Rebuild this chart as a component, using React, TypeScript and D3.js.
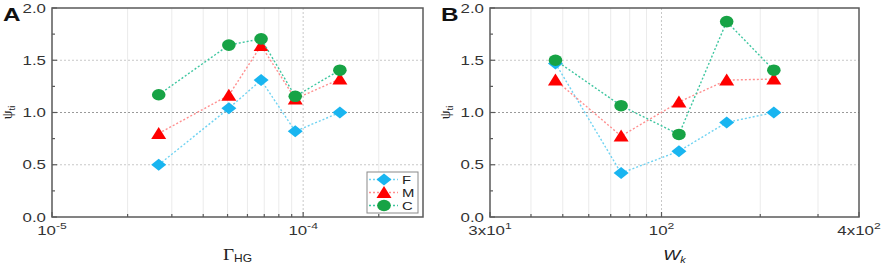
import React from "react";
import * as d3 from "d3";

const seriesNames = ["F", "M", "C"];
const markerColors = ["#19b5f0", "#ff0000", "#17a345"];
const lineColors = ["#6fd3f2", "#ff8f8f", "#3fc6a0"];

const gammaHG = [2.66e-5, 5.06e-5, 6.8e-5, 9.3e-5, 1.4e-4];
const psiA_F = [0.5, 1.04, 1.31, 0.82, 1.0];
const psiA_M = [0.8, 1.165, 1.64, 1.13, 1.32];
const psiA_C = [1.17, 1.645, 1.705, 1.155, 1.405];

const Wk = [47.5, 75.3, 113, 158, 220];
const psiB_F = [1.47, 0.42, 0.63, 0.905, 1.0];
const psiB_M = [1.31, 0.775, 1.1, 1.31, 1.32];
const psiB_C = [1.5, 1.065, 0.79, 1.87, 1.405];

const yTicks = [0, 0.5, 1.0, 1.5, 2.0];
const yMinor = [0.25, 0.75, 1.25, 1.75];

const xTicksA = [1e-5, 1e-4];
const xTickLabelsA = [["10", "-5"], ["10", "-4"]];
const xMinorA = [2e-5, 3e-5, 4e-5, 5e-5, 6e-5, 7e-5, 8e-5, 9e-5, 2e-4];

const xTicksB = [30, 100, 400];
const xTickLabelsB = [["3x10", "1"], ["10", "2"], ["4x10", "2"]];
const xMinorB = [40, 50, 60, 70, 80, 90, 200, 300];

const FONT = "Liberation Sans, Arial, sans-serif";
const SX = 1.35;

function SText(props: { x: number; y: number; anchor?: string; size: number; children: React.ReactNode; weight?: string; fill?: string }) {
  const { x, y, anchor, size, children, weight, fill } = props;
  return (
    <text
      transform={`translate(${x},${y}) scale(${SX},1)`}
      textAnchor={anchor || "start"}
      fontFamily={FONT}
      fontSize={size}
      fontWeight={weight || "normal"}
      fill={fill || "#333"}
    >
      {children}
    </text>
  );
}

function Marker({ kind, x, y, color }: { kind: number; x: number; y: number; color: string }) {
  if (kind === 0) {
    return <path d={`M${x},${y - 6} L${x + 7.5},${y} L${x},${y + 6} L${x - 7.5},${y} Z`} fill={color} />;
  }
  if (kind === 1) {
    return <path d={`M${x},${y - 6.5} L${x + 7.5},${y + 5.5} L${x - 7.5},${y + 5.5} Z`} fill={color} />;
  }
  return <ellipse cx={x} cy={y} rx={6.8} ry={5.8} fill={color} />;
}

function Panel(props: {
  left: number;
  right: number;
  top: number;
  bottom: number;
  domain: [number, number];
  xs: number[];
  series: number[][];
  ticks: number[];
  tickLabels: string[][];
  minor: number[];
  letter: string;
  xlabel: React.ReactNode;
  legend?: boolean;
}) {
  const { left, right, top, bottom, domain, xs, series, ticks, tickLabels, minor, letter, xlabel, legend } = props;
  const x = d3.scaleLog().domain(domain).range([left, right]);
  const y = d3.scaleLinear().domain([0, 2]).range([bottom, top]);
  const line = d3
    .line<[number, number]>()
    .x((d) => x(d[0]))
    .y((d) => y(d[1]));
  const axisColor = "#5a5a5a";
  return (
    <g>
      {minor.map((m, i) => (
        <line key={"mg" + i} x1={x(m)} x2={x(m)} y1={top} y2={bottom} stroke="#ebebeb" strokeWidth={1} />
      ))}
      {ticks
        .filter((t) => x(t) > left + 1 && x(t) < right - 1)
        .map((t, i) => (
          <line key={"vg" + i} x1={x(t)} x2={x(t)} y1={top} y2={bottom} stroke="#c8c8c8" strokeWidth={1} strokeDasharray="2,2" />
        ))}
      {yTicks
        .filter((t) => t > 0 && t < 2)
        .map((t, i) => (
          <line
            key={"hg" + i}
            x1={left}
            x2={right}
            y1={y(t)}
            y2={y(t)}
            stroke={t === 1 ? "#9a9a9a" : "#c8c8c8"}
            strokeWidth={1}
            strokeDasharray="2,2"
          />
        ))}
      {series.map((vals, si) => {
        const pts: [number, number][] = xs.map((xv, i) => [xv, vals[i]]);
        return (
          <g key={"s" + si}>
            <path d={line(pts) || ""} fill="none" stroke={lineColors[si]} strokeWidth={1.4} strokeDasharray="2,2" />
            {pts.map((p, i) => (
              <Marker key={i} kind={si} x={x(p[0])} y={y(p[1])} color={markerColors[si]} />
            ))}
          </g>
        );
      })}
      <rect x={left} y={top} width={right - left} height={bottom - top} fill="none" stroke={axisColor} strokeWidth={1.5} />
      {yTicks.map((t, i) => (
        <g key={"yt" + i}>
          <line x1={left} x2={left + 5} y1={y(t)} y2={y(t)} stroke={axisColor} strokeWidth={1.2} />
          <SText x={left - 6} y={y(t) + 4.5} anchor="end" size={12.5}>
            {t.toFixed(1)}
          </SText>
        </g>
      ))}
      {yMinor.map((t, i) => (
        <line key={"ym" + i} x1={left} x2={left + 3} y1={y(t)} y2={y(t)} stroke={axisColor} strokeWidth={1.2} />
      ))}
      {ticks.map((t, i) => (
        <g key={"xt" + i}>
          <line x1={x(t)} x2={x(t)} y1={bottom} y2={bottom - 5} stroke={axisColor} strokeWidth={1.2} />
          <SText x={x(t)} y={bottom + 18} anchor="middle" size={12.5}>
            {tickLabels[i][0]}
            <tspan fontSize={9} dy={-6}>
              {tickLabels[i][1]}
            </tspan>
          </SText>
        </g>
      ))}
      {minor.map((m, i) => (
        <line key={"xm" + i} x1={x(m)} x2={x(m)} y1={bottom} y2={bottom - 3} stroke={axisColor} strokeWidth={1.2} />
      ))}
      <SText x={left - 49} y={top + 13} size={18} weight="bold" fill="#111">
        {letter}
      </SText>
      <text
        transform={`translate(${left - 40},${y(1)}) rotate(-90)`}
        textAnchor="middle"
        fontFamily="Liberation Serif, Times New Roman, serif"
        fontSize={14}
        fill="#222"
      >
        ψ
        <tspan fontFamily={FONT} fontSize={9} dy={3}>
          ti
        </tspan>
      </text>
      <g transform={`translate(${(left + right) / 2},${bottom + 43}) scale(1.2,1)`}>
        <text x={0} y={0} textAnchor="middle" fill="#222">
          {xlabel}
        </text>
      </g>
      {legend && (
        <g>
          <rect x={367} y={172} width={51} height={41} fill="white" stroke="#8a8a8a" strokeWidth={1} />
          {seriesNames.map((n, i) => {
            const ly = 179.5 + i * 13;
            return (
              <g key={"lg" + i}>
                <line x1={369} x2={398} y1={ly} y2={ly} stroke={lineColors[i]} strokeWidth={1.4} strokeDasharray="2,2" />
                <Marker kind={i} x={384} y={ly} color={markerColors[i]} />
                <SText x={402} y={ly + 4} size={11} fill="#222">
                  {n}
                </SText>
              </g>
            );
          })}
        </g>
      )}
    </g>
  );
}

export default function App() {
  return (
    <svg width={886} height={264} style={{ position: "absolute", left: 0, top: 0, background: "white" }}>
      <rect x={0} y={0} width={886} height={264} fill="white" />
      <Panel
        left={52}
        right={423}
        top={8}
        bottom={217}
        domain={[1e-5, 3e-4]}
        xs={gammaHG}
        series={[psiA_F, psiA_M, psiA_C]}
        ticks={xTicksA}
        tickLabels={xTickLabelsA}
        minor={xMinorA}
        letter="A"
        legend
        xlabel={
          <>
            <tspan fontFamily="Liberation Serif, Times New Roman, serif" fontSize={16}>
              Γ
            </tspan>
            <tspan fontFamily={FONT} fontSize={10} dy={2}>
              HG
            </tspan>
          </>
        }
      />
      <Panel
        left={490}
        right={859}
        top={8}
        bottom={217}
        domain={[30, 400]}
        xs={Wk}
        series={[psiB_F, psiB_M, psiB_C]}
        ticks={xTicksB}
        tickLabels={xTickLabelsB}
        minor={xMinorB}
        letter="B"
        xlabel={
          <>
            <tspan fontFamily={FONT} fontStyle="italic" fontSize={15}>
              W
            </tspan>
            <tspan fontFamily={FONT} fontStyle="italic" fontSize={9} dy={3}>
              k
            </tspan>
          </>
        }
      />
    </svg>
  );
}
